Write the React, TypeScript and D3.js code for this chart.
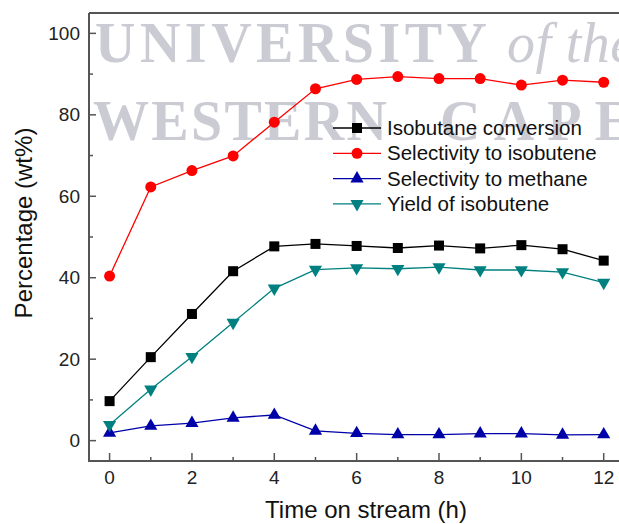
import React from "react";
import * as d3 from "d3";

const hours = [0, 1, 2, 3, 4, 5, 6, 7, 8, 9, 10, 11, 12];
const conversion = [9.7, 20.5, 31.1, 41.6, 47.7, 48.3, 47.8, 47.3, 47.9, 47.2, 48.0, 47.0, 44.2];
const selIsobutene = [40.4, 62.3, 66.3, 69.9, 78.2, 86.4, 88.7, 89.4, 88.9, 88.9, 87.3, 88.5, 88.0];
const selMethane = [1.9, 3.6, 4.3, 5.6, 6.3, 2.4, 1.8, 1.5, 1.5, 1.7, 1.7, 1.4, 1.5];
const yieldIsobutene = [3.9, 12.6, 20.6, 29.0, 37.4, 42.0, 42.4, 42.2, 42.6, 41.9, 41.9, 41.4, 38.8];
const xTicks = [0, 2, 4, 6, 8, 10, 12];
const xMinor = [1, 3, 5, 7, 9, 11];
const yTicks = [0, 20, 40, 60, 80, 100];
const yMinor = [10, 30, 50, 70, 90];
const seriesNames = [
  "Isobutane conversion",
  "Selectivity to isobutene",
  "Selectivity to methane",
  "Yield of isobutene",
];

const W = 619;
const H = 524;
const FONT = "'Liberation Sans', Arial, sans-serif";
const AXIS = "#555";

export default function App() {
  const x = d3.scaleLinear().domain([-0.5, 12.5]).range([89, 624.3]);
  const y = d3.scaleLinear().domain([-5, 105]).range([461, 13]);

  const series = [
    { name: seriesNames[0], data: conversion, color: "#000000", shape: "square" },
    { name: seriesNames[1], data: selIsobutene, color: "#ff0000", shape: "circle" },
    { name: seriesNames[2], data: selMethane, color: "#0000a8", shape: "up" },
    { name: seriesNames[3], data: yieldIsobutene, color: "#008080", shape: "down" },
  ];

  const line = d3
    .line<number>()
    .x((_, i) => x(hours[i]))
    .y((d) => y(d));

  const marker = (shape: string, cx: number, cy: number, color: string, key: string | number) => {
    if (shape === "square")
      return <rect key={key} x={cx - 5} y={cy - 5} width={10} height={10} fill={color} />;
    if (shape === "circle") return <circle key={key} cx={cx} cy={cy} r={5.5} fill={color} />;
    const sym = d3.symbol().type(d3.symbolTriangle).size(75)();
    if (shape === "up")
      return <path key={key} d={sym || ""} transform={`translate(${cx},${cy})`} fill={color} />;
    return <path key={key} d={sym || ""} transform={`translate(${cx},${cy}) rotate(180)`} fill={color} />;
  };

  const x0 = x.range()[0];
  const yb = y.range()[0];
  const yt = y.range()[1];

  const legendX = 333;
  const legendY0 = 128;
  const legendDy = 25.3;

  return (
    <svg
      width={W}
      height={H}
      style={{ position: "absolute", left: 0, top: 0, background: "#fff" }}
      fontFamily={FONT}
    >
      {/* watermark */}
      <g fill="#cbcbd4" fontFamily="'Liberation Serif', 'Times New Roman', serif" fontSize={56}>
        <text x={95} y={62} fontWeight="bold" textLength={392} lengthAdjust="spacing">UNIVERSITY</text>
        <text x={507} y={62} fontStyle="italic" textLength={128} lengthAdjust="spacing">of the</text>
        <text x={93} y={140} fontWeight="bold" textLength={294} lengthAdjust="spacing">WESTERN</text>
        <text x={440} y={140} fontWeight="bold" textLength={192} lengthAdjust="spacing">CAPE</text>
      </g>

      {/* frame */}
      <line x1={x0} x2={W + 10} y1={yt} y2={yt} stroke={AXIS} strokeWidth={2} />
      <line x1={x0} x2={x0} y1={yt} y2={yb} stroke={AXIS} strokeWidth={2} />
      <line x1={x0 - 1} x2={W + 10} y1={yb} y2={yb} stroke={AXIS} strokeWidth={2} />

      {/* x ticks */}
      {xTicks.map((t) => (
        <g key={"xt" + t}>
          <line x1={x(t)} x2={x(t)} y1={yb} y2={yb - 8} stroke={AXIS} strokeWidth={1.5} />
          <text x={x(t)} y={484} textAnchor="middle" fontSize={19} fill="#222">
            {t}
          </text>
        </g>
      ))}
      {xMinor.map((t) => (
        <line key={"xm" + t} x1={x(t)} x2={x(t)} y1={yb} y2={yb - 4} stroke={AXIS} strokeWidth={1.5} />
      ))}

      {/* y ticks */}
      {yTicks.map((t) => (
        <g key={"yt" + t}>
          <line x1={x0} x2={x0 + 7} y1={y(t)} y2={y(t)} stroke={AXIS} strokeWidth={1.5} />
          <text x={80} y={y(t) + 6.5} textAnchor="end" fontSize={19} fill="#222">
            {t}
          </text>
        </g>
      ))}
      {yMinor.map((t) => (
        <line key={"ym" + t} x1={x0} x2={x0 + 4} y1={y(t)} y2={y(t)} stroke={AXIS} strokeWidth={1.5} />
      ))}

      {/* axis titles */}
      <text x={366} y={518} textAnchor="middle" fontSize={24} fill="#111">
        Time on stream (h)
      </text>
      <text
        transform={`translate(32,223) rotate(-90)`}
        textAnchor="middle"
        fontSize={24}
        fill="#111"
      >
        Percentage (wt%)
      </text>

      {/* series */}
      {series.map((s) => (
        <g key={s.name}>
          <path d={line(s.data) || ""} fill="none" stroke={s.color} strokeWidth={1.3} />
          {s.data.map((v, i) => marker(s.shape, x(hours[i]), y(v), s.color, i))}
        </g>
      ))}

      {/* legend */}
      {series.map((s, i) => {
        const ly = legendY0 + i * legendDy;
        return (
          <g key={"lg" + s.name}>
            <line x1={legendX} x2={legendX + 48} y1={ly} y2={ly} stroke={s.color} strokeWidth={1.3} />
            {marker(s.shape, legendX + 24, ly, s.color, "m")}
            <text x={legendX + 54} y={ly + 7} fontSize={20.5} fill="#111">
              {s.name}
            </text>
          </g>
        );
      })}
    </svg>
  );
}
